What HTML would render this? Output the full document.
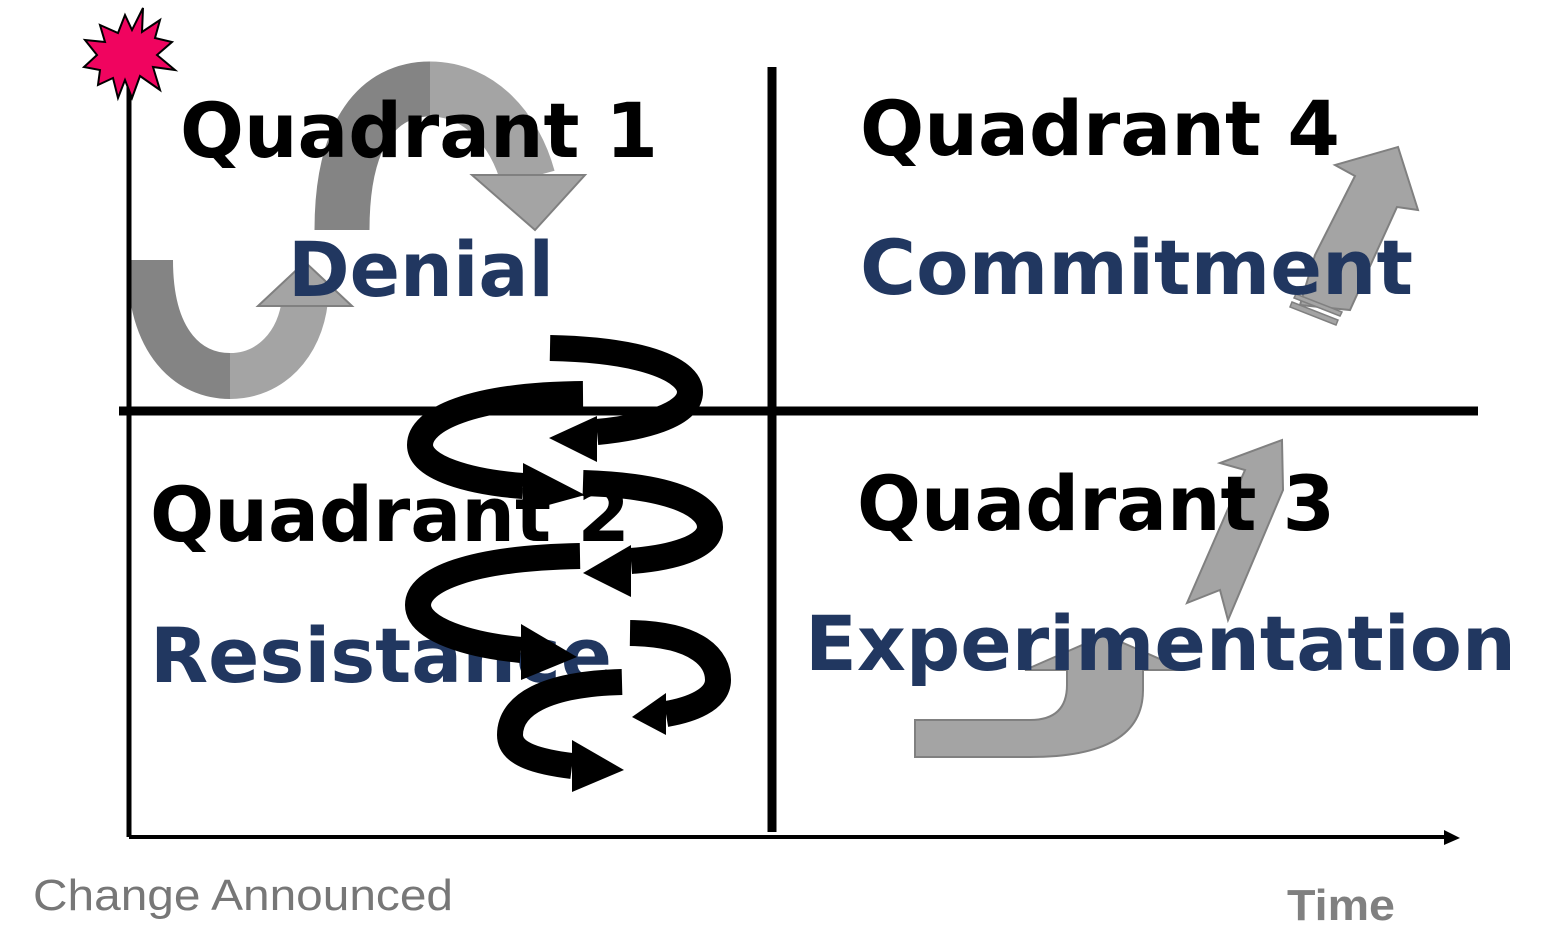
<!DOCTYPE html>
<html><head><meta charset="utf-8"><style>html,body{margin:0;padding:0;background:#fff}svg{display:block}</style></head>
<body>
<svg width="1550" height="950" viewBox="0 0 1550 950" xmlns="http://www.w3.org/2000/svg">
<rect width="1550" height="950" fill="#fff"/>
<!-- Q1 gray arrows -->
<path d="M150 260 C150 345 190 376 230 376" fill="none" stroke="#848484" stroke-width="46"/>
<path d="M230 376 C270 376 300 345 305 300" fill="none" stroke="#a4a4a4" stroke-width="46"/>
<polygon points="258,306 305,262 352,306" fill="#a4a4a4" stroke="#808080" stroke-width="2"/>
<path d="M342 230 C342 130 380 89 430 89" fill="none" stroke="#848484" stroke-width="55"/>
<path d="M430 89 C480 89 515 130 528 178" fill="none" stroke="#a4a4a4" stroke-width="55"/>
<polygon points="472,175 585,175 535,230" fill="#a4a4a4" stroke="#808080" stroke-width="2"/>
<!-- axes -->
<line x1="129" y1="85" x2="129" y2="837" stroke="#000" stroke-width="5"/>
<line x1="129" y1="837" x2="1448" y2="837" stroke="#000" stroke-width="4"/>
<polygon points="1444,830 1460,838 1444,845" fill="#000"/>
<line x1="119" y1="411" x2="1478" y2="411" stroke="#000" stroke-width="9"/>
<line x1="772" y1="67" x2="772" y2="832" stroke="#000" stroke-width="9"/>
<!-- star -->
<polygon points="143,8 142,32 160,20 155,38 172,42 157,55 175,70 153,67 160,90 140,76 132,98 125,80 118,98 113,78 98,85 100,70 84,67 97,55 85,40 105,42 100,25 118,33 125,15 132,30" fill="#f0045f" stroke="#000" stroke-width="2"/>
<!-- Q4 arrow -->
<polygon points="1300,305 1350,310 1397,207 1418,210 1398,147 1335,165 1355,176 1315,255" fill="#a4a4a4" stroke="#808080" stroke-width="2"/>
<polygon points="1292,302 1338,320 1336,325 1290,307" fill="#a4a4a4" stroke="#808080" stroke-width="1.5"/>
<polygon points="1296,294 1342,312 1340,316 1294,298" fill="#a4a4a4" stroke="#808080" stroke-width="1.5"/>
<!-- Q3 arrows -->
<polygon points="1187,603 1220,590 1228,620 1283,490 1282,440 1220,463 1245,470" fill="#a4a4a4" stroke="#808080" stroke-width="2"/>
<path d="M915 720 L1030 720 Q1067 720 1067 685 L1067 670 L1025 670 L1105 635 L1185 670 L1143 670 L1143 690 Q1143 757 1030 757 L915 757 Z" fill="#a4a4a4" stroke="#808080" stroke-width="2"/>
<!-- texts -->
<g font-family="'DejaVu Sans', 'Liberation Sans', sans-serif" font-weight="bold" font-size="76">
<text x="180" y="157" textLength="478" lengthAdjust="spacingAndGlyphs" fill="#000">Quadrant 1</text>
<text x="288" y="296" textLength="266" lengthAdjust="spacingAndGlyphs" fill="#213760">Denial</text>
<text x="860" y="155" textLength="480" lengthAdjust="spacingAndGlyphs" fill="#000">Quadrant 4</text>
<text x="860" y="294" textLength="553" lengthAdjust="spacingAndGlyphs" fill="#213760">Commitment</text>
<text x="150" y="541" textLength="480" lengthAdjust="spacingAndGlyphs" fill="#000">Quadrant 2</text>
<text x="150" y="682" textLength="462" lengthAdjust="spacingAndGlyphs" fill="#213760">Resistance</text>
<text x="857" y="530" textLength="478" lengthAdjust="spacingAndGlyphs" fill="#000">Quadrant 3</text>
<text x="805" y="670" textLength="711" lengthAdjust="spacingAndGlyphs" fill="#213760">Experimentation</text>
</g>
<!-- spiral -->
<g fill="none" stroke="#000" stroke-width="26">
<path d="M550 348 C650 350 690 372 690 392 C690 416 640 428 597 432"/>
<path d="M583 394 C470 395 420 420 420 445 C420 468 470 482 523 486"/>
<path d="M583 483 C680 486 710 508 710 527 C710 548 670 558 631 561"/>
<path d="M580 556 C470 558 418 580 418 605 C418 630 470 645 521 650"/>
<path d="M630 633 C700 634 718 660 718 680 C718 700 690 710 666 714"/>
<path d="M622 682 C545 684 510 705 510 735 C510 755 540 762 572 766"/>
</g>
<g fill="#000">
<polygon points="597,416 597,462 549,438"/>
<polygon points="523,463 523,512 585,495"/>
<polygon points="631,545 631,597 583,573"/>
<polygon points="521,624 521,680 577,657"/>
<polygon points="666,693 666,735 632,717"/>
<polygon points="572,740 572,792 624,770"/>
</g>
<text x="33" y="910" font-family="'Liberation Sans', sans-serif" font-size="44" fill="#777" textLength="420" lengthAdjust="spacingAndGlyphs">Change Announced</text>
<text x="1287" y="920" font-family="'Liberation Sans', sans-serif" font-weight="bold" font-size="44" fill="#808080" textLength="108" lengthAdjust="spacingAndGlyphs">Time</text>
</svg>
</body></html>
